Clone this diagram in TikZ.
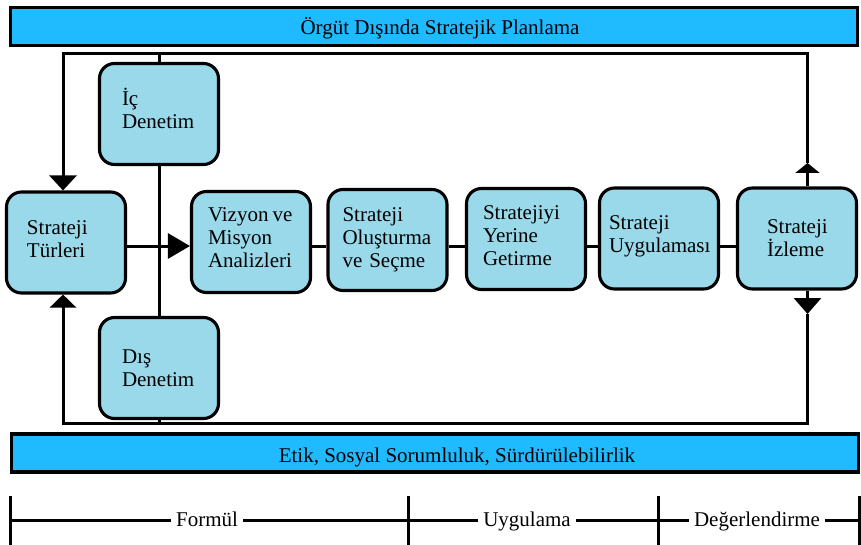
\documentclass[tikz,border=0pt]{standalone}
\usepackage{fontspec}
\setmainfont{Liberation Serif}
\usetikzlibrary{arrows.meta}
\definecolor{barblue}{HTML}{1FBAFF}
\definecolor{stageblue}{HTML}{9AD9EA}
% zero-width rule that only adds depth below the last line of a box
\newcommand{\deepen}[1]{\rule[-#1]{0pt}{#1}}

\tikzset{
  txt/.style={font=\fontsize{21}{23}\selectfont},
  band/.style={txt, draw=black, line width=3.4pt, fill=barblue,
    minimum width=847pt, minimum height=38pt, inner sep=0pt},
  stage/.style={txt, draw=black, line width=3.1pt, fill=stageblue,
    rounded corners=15pt, minimum width=119pt, minimum height=101pt,
    text width=111pt, inner xsep=4pt, inner ysep=0pt, align=left},
  lpad/.style={execute at begin node={\leftskip=#1\relax}},
  link/.style={line width=3pt},
  phase/.style={txt, fill=white, inner xsep=5pt, inner ysep=1pt, anchor=base},
  axis/.style={line width=3pt},
}

\begin{document}
\begin{tikzpicture}[x=1pt,y=-1pt]
\useasboundingbox (0,0) rectangle (861,545);

% framing bands
\node[band, text height=19pt, text depth=2pt] (plan) at (434,26.5)
  {\hspace*{12pt}Örgüt Dışında Stratejik Planlama};
\node[band, text height=20pt, text depth=2pt] (etik) at (435,453)
  {\hspace*{44pt}Etik, Sosyal Sorumluluk, Sürdürülebilirlik};

% process stages
\node[stage, lpad=16.5pt] (turleri) at (66,242.5) {Strateji\\Türleri\deepen{6pt}};
\node[stage, lpad=18.5pt] (ic)      at (159,114)   {İç\\Denetim\deepen{11pt}};
\node[stage, lpad=18.5pt] (dis)     at (159,368)   {Dış\\Denetim};
\node[stage, lpad=12.5pt] (vizyon)  at (251,242)   {Vizyon\hspace{0.2em}ve\\Misyon\\Analizleri\deepen{8pt}};
\node[stage, lpad=10.5pt] (olus)    at (387.5,240) {Strateji\\Oluşturma\\ve Seçme\deepen{4pt}};
\node[stage, lpad=12.5pt] (yerine)  at (526,239)   {Stratejiyi\\Yerine\\Getirme\deepen{6pt}};
\node[stage, lpad=5.5pt]  (uyg)     at (659,238.5) {Strateji\\Uygulaması\deepen{8pt}};
\node[stage, lpad=25.5pt] (izleme)  at (797,238.5) {Strateji\\İzleme};

% loop corners and arrow marks
\coordinate (tl) at (63,54);
\coordinate (tr) at (807.5,54);
\coordinate (bl) at (63,423.5);
\coordinate (br) at (807.5,423.5);
\coordinate (row) at (0,246);
\coordinate (upmark) at (807.5,163);
\coordinate (downmark) at (807.5,314);

% feedback loop
\draw[link, -{Triangle[length=15pt,width=27pt]}] (upmark) -- (tr) -- (tl) -- (tl |- turleri.north);
\draw[link, -{Triangle[length=10pt,width=24pt]}] (izleme.north -| tr) -- (upmark);
\draw[link, -{Triangle[length=13pt,width=26pt]}] (downmark) -- (br) -- (bl) -- (bl |- turleri.south);
\draw[link, -{Triangle[length=16pt,width=27pt]}] (izleme.south -| br) -- (downmark);

% audits
\draw[link] (ic.north) -- (ic.north |- tl);
\draw[link] (ic.south) -- (dis.north);
\draw[link] (dis.south) -- (dis.south |- bl);

% main chain
\draw[link, -{Triangle[length=22pt,width=25pt]}] (turleri.east |- row) -- (vizyon.west |- row);
\draw[link] (vizyon.east |- row) -- (olus.west |- row);
\draw[link] (olus.east |- row) -- (yerine.west |- row);
\draw[link] (yerine.east |- row) -- (uyg.west |- row);
\draw[link] (uyg.east |- row) -- (izleme.west |- row);

% phase axis
\coordinate (p0) at (10,520);
\coordinate (p1) at (408,520);
\coordinate (p2) at (658,520);
\coordinate (p3) at (859,520);
\draw[axis] (p0) -- (p3);
\foreach \p in {p0,p1,p2,p3} \draw[axis] (\p) ++(0,-24) -- ++(0,52);
\node[phase] (formul)   at (207,526) {Formül};
\node[phase] (uygulama) at (527,526) {Uygulama};
\node[phase] (deger)    at (757,526) {Değerlendirme};
\end{tikzpicture}
\end{document}
